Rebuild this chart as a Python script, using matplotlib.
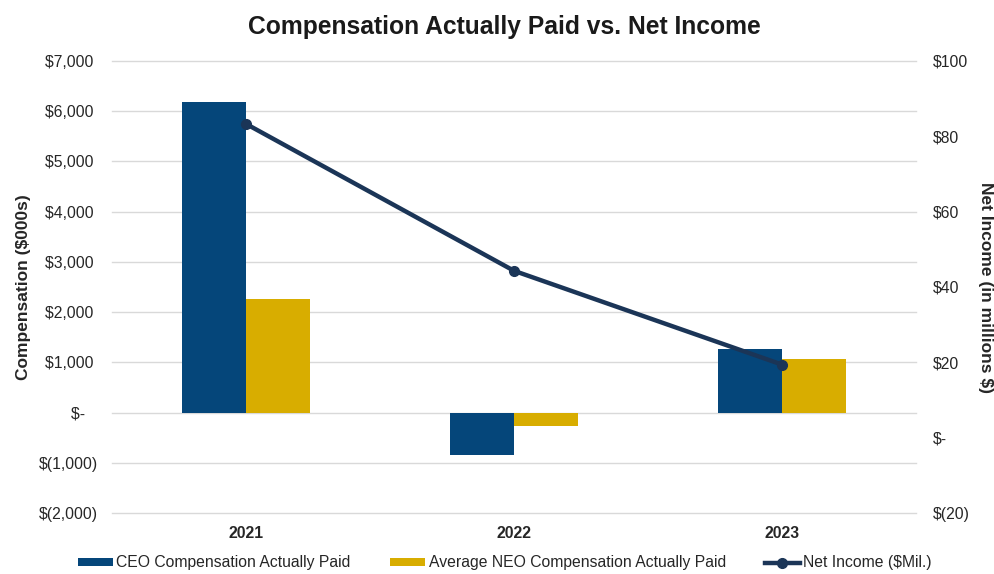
import matplotlib
matplotlib.use("Agg")
import matplotlib.pyplot as plt
import numpy as np
from matplotlib.ticker import FixedLocator

plt.rcParams['font.family'] = ['Liberation Sans', 'DejaVu Sans']

years = ["2021", "2022", "2023"]
ceo_cap = [6175, -855, 1275]
neo_cap = [2270, -260, 1075]
net_income = [83.3, 44.3, 19.4]

left_ticks = [-2000, -1000, 0, 1000, 2000, 3000, 4000, 5000, 6000, 7000]
left_labels = ["$(2,000)", "$(1,000)", "$-   ", "$1,000 ", "$2,000 ", "$3,000 ",
               "$4,000 ", "$5,000 ", "$6,000 ", "$7,000 "]
right_ticks = [-20, 0, 20, 40, 60, 80, 100]
right_labels = ["$(20)", "$-", "$20", "$40", "$60", "$80", "$100"]

c_ceo = "#05467A"
c_neo = "#D8AD00"
c_line = "#1B3557"
c_text = "#262626"
fs = 11.3

fig = plt.figure(figsize=(9.95, 5.74), dpi=100)
ax = fig.add_axes([112/995, 1-513/574, 804/995, 452/574])
x = np.arange(len(years))
w = 0.24
b1 = ax.bar(x - w/2, ceo_cap, w, color=c_ceo, label="CEO Compensation Actually Paid", zorder=2)
b2 = ax.bar(x + w/2, neo_cap, w, color=c_neo, label="Average NEO Compensation Actually Paid", zorder=2)
ax.set_xlim(-0.5, 2.5)
ax.set_ylim(-2000, 7000)
ax.yaxis.set_major_locator(FixedLocator(left_ticks))
ax.set_yticklabels(left_labels)
ax.set_xticks(x)
ax.set_xticklabels(years, fontweight='bold', fontsize=11.5)
ax.grid(axis='y', color='#D9D9D9', linewidth=1, zorder=0)
for gl in ax.get_ygridlines():
    gl.set_clip_on(False)
for s in ax.spines.values():
    s.set_visible(False)
ax.tick_params(axis='both', length=0, labelsize=fs, colors=c_text)
ax.tick_params(axis='y', pad=10)
ax.tick_params(axis='x', pad=9)
ax.set_ylabel("Compensation ($000s)", fontweight='bold', fontsize=12.5, labelpad=6,
              color=c_text)

ax2 = ax.twinx()
ln, = ax2.plot(x, net_income, color=c_line, linewidth=3.2, marker='o', markersize=7,
               label="Net Income ($Mil.)", zorder=3)
ax2.set_ylim(-20, 100)
ax2.yaxis.set_major_locator(FixedLocator(right_ticks))
ax2.set_yticklabels(right_labels)
for s in ax2.spines.values():
    s.set_visible(False)
ax2.tick_params(axis='y', length=0, labelsize=fs, colors=c_text, pad=12)
ax2.set_ylabel("Net Income (in millions $)", fontweight='bold', fontsize=12.5,
               rotation=270, labelpad=6, color=c_text, va='bottom')

fig.text(504/995, 1-27/574, "Compensation Actually Paid vs. Net Income", fontweight='bold',
         fontsize=17.7, ha='center', va='center', color='#1a1a1a')

leg = fig.legend(handles=[b1, b2, ln], loc='center', ncol=3,
                 bbox_to_anchor=(505/995, 1-563/574), frameon=False, fontsize=fs,
                 handlelength=2.2, handleheight=0.45, columnspacing=2.5,
                 handletextpad=0.25, borderpad=0)
for t in leg.get_texts():
    t.set_color(c_text)

fig.savefig("out.png", dpi=100)
